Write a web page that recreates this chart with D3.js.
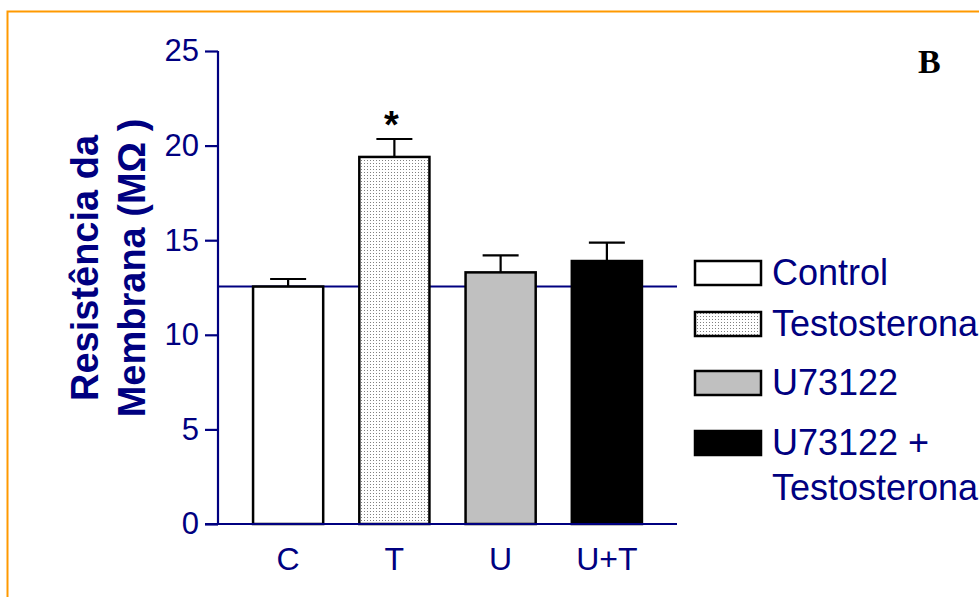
<!DOCTYPE html>
<html>
<head>
<meta charset="utf-8">
<script src="https://cdn.jsdelivr.net/npm/d3@7"></script>
<style>
  html, body { margin: 0; padding: 0; background: #fff; }
  svg { display: block; }
</style>
</head>
<body>
<svg id="chart" width="979" height="597" font-family="'Liberation Sans', Arial, sans-serif"></svg>
<script>
const categories = ["C", "T", "U", "U+T"];
const means = [12.55, 19.4, 13.3, 13.9];
const sems = [0.4, 0.95, 0.9, 0.97];
const yTicks = [0, 5, 10, 15, 20, 25];
const legendLabels = [["Control"], ["Testosterona"], ["U73122"], ["U73122 +", "Testosterona"]];
const fills = ["#ffffff", "url(#dots)", "#c0c0c0", "#000000"];
const controlLevel = means[0];

const navy = "#000080";
const sans = "'Liberation Sans', Arial, sans-serif";
const svg = d3.select("#chart");

// pattern
const defs = svg.append("defs");
const pat = defs.append("pattern").attr("id", "dots").attr("patternUnits", "userSpaceOnUse")
  .attr("width", 3).attr("height", 3);
pat.append("rect").attr("width", 3).attr("height", 3).attr("fill", "#ffffff");
pat.append("rect").attr("x", 1).attr("y", 1).attr("width", 1).attr("height", 1).attr("fill", "#808080");

// orange frame
svg.append("rect").attr("x", 7.5).attr("y", 11.5).attr("width", 1200).attr("height", 800)
  .attr("fill", "none").attr("stroke", "#ff9900").attr("stroke-width", 2);

const x = d3.scaleBand().domain(categories).range([218, 677]).paddingInner(0.34).paddingOuter(0.33);
const y = d3.scaleLinear().domain([0, 25]).range([524, 51]);

// control reference line
svg.append("line").attr("x1", 218).attr("x2", 677)
  .attr("y1", y(controlLevel)).attr("y2", y(controlLevel))
  .attr("stroke", navy).attr("stroke-width", 2);

// error bars
const capHalf = 18;
categories.forEach((c, i) => {
  const cx = x(c) + x.bandwidth() / 2;
  const g = svg.append("g").attr("stroke", "#000").attr("stroke-width", 2.2);
  g.append("line").attr("x1", cx).attr("x2", cx).attr("y1", y(means[i])).attr("y2", y(means[i] + sems[i]));
  g.append("line").attr("x1", cx - capHalf).attr("x2", cx + capHalf)
    .attr("y1", y(means[i] + sems[i])).attr("y2", y(means[i] + sems[i]));
});

// bars
svg.append("g").selectAll("rect").data(categories).join("rect")
  .attr("x", d => x(d))
  .attr("y", (d, i) => y(means[i]))
  .attr("width", x.bandwidth())
  .attr("height", (d, i) => y(0) - y(means[i]))
  .attr("fill", (d, i) => fills[i])
  .attr("stroke", "#000").attr("stroke-width", 2.5);

// asterisk
svg.append("text").attr("x", x("T") + x.bandwidth() / 2 - 3).attr("y", 138)
  .attr("text-anchor", "middle").attr("font-size", 38).attr("font-weight", "bold")
  .attr("fill", "#000").text("*");

// y axis
const yAxis = d3.axisLeft(y).tickValues(yTicks).tickSize(13).tickPadding(6);
const ya = svg.append("g").attr("transform", "translate(218,0)").call(yAxis)
  .attr("font-family", sans);
ya.select(".domain").attr("stroke", navy).attr("stroke-width", 2.2).attr("d", `M0,${y(25)}V${y(0)}`);
ya.selectAll(".tick line").attr("stroke", navy).attr("stroke-width", 2.2);
ya.selectAll(".tick text").attr("fill", navy).attr("font-size", 31);

// x axis line
svg.append("line").attr("x1", 205).attr("x2", 677).attr("y1", y(0)).attr("y2", y(0))
  .attr("stroke", navy).attr("stroke-width", 2.2);

// x labels
const xAxis = d3.axisBottom(x).tickSize(0).tickPadding(0);
const xa = svg.append("g").attr("transform", `translate(0,${y(0)})`).call(xAxis)
  .attr("font-family", sans);
xa.select(".domain").remove();
xa.selectAll(".tick text").attr("fill", navy).attr("font-size", 32).attr("dy", null).attr("y", 46);

// y title
const yt = svg.append("text").attr("transform", "translate(0,268) rotate(-90)")
  .attr("text-anchor", "middle").attr("fill", navy).attr("font-size", 38).attr("font-weight", "bold");
yt.append("tspan").attr("x", 0).attr("y", 98).text("Resistência da");
yt.append("tspan").attr("x", 0).attr("y", 145).text("Membrana (MΩ )");

// panel label
svg.append("text").attr("x", 918).attr("y", 73)
  .style("font-family", "'Liberation Serif', 'Times New Roman', serif")
  .attr("font-weight", "bold").attr("font-size", 34).attr("fill", "#000").text("B");

// legend
const legY = [261, 312, 371, 431];
const lg = svg.append("g");
legendLabels.forEach((lab, i) => {
  lg.append("rect").attr("x", 695).attr("y", legY[i]).attr("width", 66).attr("height", 24)
    .attr("fill", fills[i]).attr("stroke", "#000").attr("stroke-width", 2.5);
  const t = lg.append("text").attr("fill", navy).attr("font-size", 36);
  lab.forEach((s, j) => {
    t.append("tspan").attr("x", 772).attr("y", legY[i] + 24 + j * 45).text(s);
  });
});
</script>
</body>
</html>
